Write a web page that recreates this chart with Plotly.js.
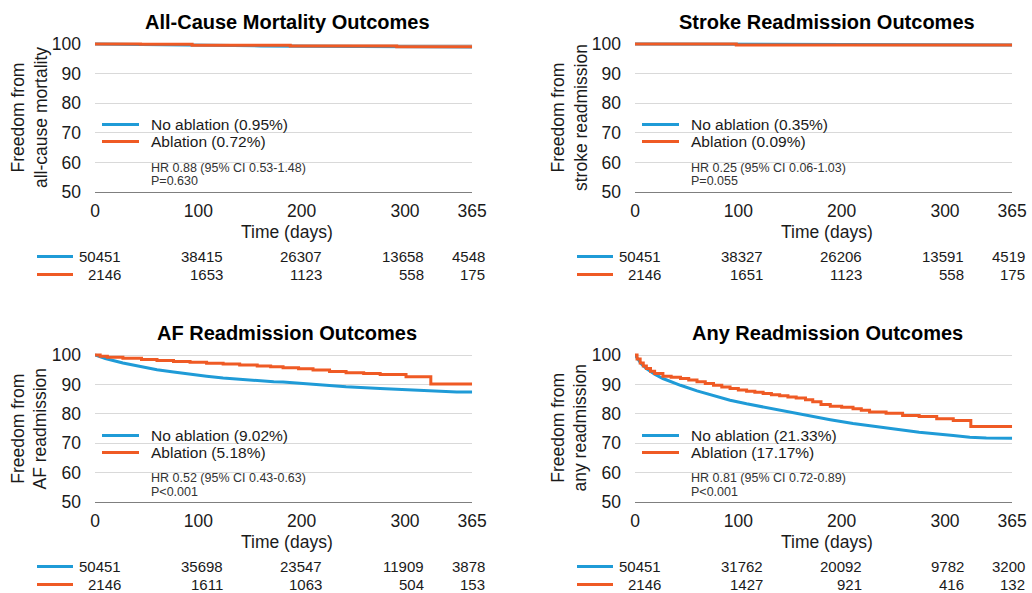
<!DOCTYPE html>
<html><head><meta charset="utf-8">
<script src="https://cdn.plot.ly/plotly-3.0.1.min.js"></script>
<style>html,body{margin:0;padding:0;background:#fff}#chart{width:1032px;height:593px}</style>
</head><body><div id="chart"></div>
<script>
// ---------------- data ----------------
const panelTitles = ["All-Cause Mortality Outcomes", "Stroke Readmission Outcomes", "AF Readmission Outcomes", "Any Readmission Outcomes"];
const yTitles = ["Freedom from<br>all-cause mortality", "Freedom from<br>stroke readmission", "Freedom from<br>AF readmission", "Freedom from<br>any readmission"];
const xTitle = "Time (days)";
const seriesNames = ["No ablation", "Ablation"];
const eventRates = [["0.95%", "0.72%"], ["0.35%", "0.09%"], ["9.02%", "5.18%"], ["21.33%", "17.17%"]];
const hrTexts = ["HR 0.88 (95% CI 0.53-1.48)", "HR 0.25 (95% CI 0.06-1.03)", "HR 0.52 (95% CI 0.43-0.63)", "HR 0.81 (95% CI 0.72-0.89)"];
const pTexts = ["P=0.630", "P=0.055", "P&lt;0.001", "P&lt;0.001"];
const xTicks = [0, 100, 200, 300, 365];
const yTicks = [50, 60, 70, 80, 90, 100];
const riskNoAblation = [[50451, 38415, 26307, 13658, 4548], [50451, 38327, 26206, 13591, 4519], [50451, 35698, 23547, 11909, 3878], [50451, 31762, 20092, 9782, 3200]];
const riskAblation = [[2146, 1653, 1123, 558, 175], [2146, 1651, 1123, 558, 175], [2146, 1611, 1063, 504, 153], [2146, 1427, 921, 416, 132]];

// All-cause mortality
const mortNoAblDays = [0, 30, 60, 80, 120, 160, 200, 250, 300, 340, 365];
const mortNoAblSurv = [100, 99.85, 99.7, 99.5, 99.45, 99.35, 99.25, 99.15, 99.05, 99.02, 99.0];
const mortAblDays = [0, 44, 94, 189, 292, 365];
const mortAblSurv = [100, 99.9, 99.55, 99.33, 99.1, 99.1];
// Stroke readmission
const strokeNoAblDays = [0, 60, 121, 200, 300, 365];
const strokeNoAblSurv = [100, 99.95, 99.7, 99.68, 99.65, 99.65];
const strokeAblDays = [0, 98, 365];
const strokeAblSurv = [100, 99.7, 99.7];
// AF readmission
const afNoAblDays = [0, 10, 27, 44, 60, 76, 92, 108, 124, 140, 157, 173, 182, 211, 243, 276, 308, 324, 350, 365];
const afNoAblSurv = [100, 98.8, 97.3, 96.0, 95.0, 94.2, 93.4, 92.8, 92.2, 91.7, 91.2, 90.9, 90.8, 90.0, 89.2, 88.6, 88.1, 87.7, 87.4, 87.4];
const afAblDays = [0, 5, 12, 27, 45, 60, 76, 92, 108, 124, 140, 157, 170, 182, 197, 211, 227, 243, 260, 276, 301, 325, 365];
const afAblSurv = [100, 99.6, 99.2, 98.9, 98.5, 98.1, 97.8, 97.5, 97.2, 96.9, 96.6, 96.25, 96.0, 95.7, 95.3, 94.9, 94.4, 94.0, 93.7, 93.4, 92.6, 90.1, 90.1];
// Any readmission
const anyNoAblDays = [0, 3, 6, 11, 19, 27, 35, 44, 60, 76, 92, 108, 124, 140, 156, 172, 189, 211, 243, 275, 308, 324, 340, 365];
const anyNoAblSurv = [100, 98.3, 97.0, 95.4, 93.5, 92.0, 90.8, 89.7, 87.8, 86.1, 84.6, 83.4, 82.3, 81.4, 80.3, 79.2, 78.0, 76.7, 75.1, 73.7, 72.6, 72.0, 71.8, 71.7];
const anyAblDays = [0, 2, 5, 8, 11, 15, 19, 27, 35, 44, 52, 60, 68, 76, 84, 92, 100, 108, 116, 124, 132, 140, 148, 156, 165, 172, 180, 189, 200, 211, 219, 227, 243, 259, 275, 292, 308, 325, 365];
const anyAblSurv = [100, 98.6, 97.3, 96.3, 95.4, 94.5, 93.7, 92.8, 92.4, 92.0, 91.5, 90.9, 90.3, 89.7, 89.1, 88.6, 88.1, 87.7, 87.3, 86.9, 86.5, 86.1, 85.7, 85.4, 84.8, 84.1, 83.2, 82.6, 82.2, 81.7, 81.2, 80.6, 80.2, 79.4, 79.1, 78.3, 77.7, 75.7, 75.7];

const curves = [
  [[mortNoAblDays, mortNoAblSurv], [mortAblDays, mortAblSurv]],
  [[strokeNoAblDays, strokeNoAblSurv], [strokeAblDays, strokeAblSurv]],
  [[afNoAblDays, afNoAblSurv], [afAblDays, afAblSurv]],
  [[anyNoAblDays, anyNoAblSurv], [anyAblDays, anyAblSurv]]
];

// ---------------- layout geometry ----------------
const W = 1032, H = 593;
const FONT = "Liberation Sans, Arial, Helvetica, sans-serif";
const COLORS = ["#1f9bd7", "#ef5a24"];
const TXT = "#1a1a1a";
const geo = [
  {x0: 95, y100: 44, y50: 192}, {x0: 635, y100: 44, y50: 192},
  {x0: 95, y100: 355, y50: 502}, {x0: 635, y100: 355, y50: 502}
];
const pxPerDay = 1.0333;
const fx = px => px / W;
const fy = py => 1 - py / H;

const traces = [];
const layout = {
  width: W, height: H, margin: {l: 0, r: 0, t: 0, b: 0},
  paper_bgcolor: "#fff", plot_bgcolor: "#fff", showlegend: false,
  font: {family: FONT, color: TXT},
  annotations: [], shapes: []
};

const riskOffsets = [28, 130, 229, 331, 392];

geo.forEach((g, i) => {
  const n = i === 0 ? "" : String(i + 1);
  const xa = "x" + n, ya = "y" + n;
  const x365 = g.x0 + 365 * pxPerDay;
  const pxPerUnit = (g.y50 - g.y100) / 50;
  const yTop = g.y100 - pxPerUnit * 1; // range up to 101
  layout["xaxis" + n] = {
    domain: [fx(g.x0), fx(x365)], range: [0, 365], anchor: ya,
    tickmode: "array", tickvals: xTicks, ticktext: xTicks.map(String),
    showgrid: false, zeroline: false, showline: true, linecolor: "#7f7f7f", linewidth: 1,
    ticks: "", ticklabelstandoff: 3, tickfont: {size: 17.5, family: FONT, color: TXT}, fixedrange: true
  };
  layout["yaxis" + n] = {
    domain: [fy(g.y50), fy(yTop)], range: [50, 101], anchor: xa,
    tickmode: "array", tickvals: yTicks, ticktext: yTicks.map(String),
    showgrid: true, gridcolor: "#d9d9d9", gridwidth: 1, zeroline: false, showline: false,
    ticks: "", ticklabelstandoff: 13, tickfont: {size: 17.5, family: FONT, color: TXT}, fixedrange: true
  };
  curves[i].forEach((c, s) => {
    traces.push({
      type: "scatter", mode: "lines", x: c[0], y: c[1], xaxis: xa, yaxis: ya,
      name: seriesNames[s], line: {color: COLORS[s], width: 3, shape: s === 0 ? "linear" : "hv"},
      hoverinfo: "skip"
    });
  });
  const A = layout.annotations, S = layout.shapes;
  // title
  A.push({xref: "paper", yref: "paper", x: fx(g.x0 + 192), y: fy(g.y100 - 22), xanchor: "center", yanchor: "middle",
    text: panelTitles[i], showarrow: false, font: {size: 20, weight: "bold", color: "#000", family: FONT}});
  // y title
  A.push({xref: "paper", yref: "paper", x: fx(g.x0 - 66), y: fy((g.y100 + g.y50) / 2), xanchor: "center", yanchor: "middle",
    text: yTitles[i], textangle: -90, showarrow: false, font: {size: 17.5, color: TXT, family: FONT}});
  // x title
  A.push({xref: "paper", yref: "paper", x: fx(g.x0 + 192), y: fy(g.y50 + 40), xanchor: "center", yanchor: "middle",
    text: xTitle, showarrow: false, font: {size: 17.5, color: TXT, family: FONT}});
  // legend
  [80.5, 97.5].forEach((dy, s) => {
    S.push({type: "line", xref: "paper", yref: "paper", x0: fx(g.x0 + 7), x1: fx(g.x0 + 44), y0: fy(g.y100 + dy), y1: fy(g.y100 + dy),
      line: {color: COLORS[s], width: 3}});
    A.push({xref: "paper", yref: "paper", x: fx(g.x0 + 54), y: fy(g.y100 + dy), xanchor: "left", yanchor: "middle",
      text: seriesNames[s] + " (" + eventRates[i][s] + ")", showarrow: false, font: {size: 15.5, color: TXT, family: FONT}});
  });
  A.push({xref: "paper", yref: "paper", x: fx(g.x0 + 54), y: fy(g.y100 + 123.5), xanchor: "left", yanchor: "middle",
    text: hrTexts[i], showarrow: false, font: {size: 12.5, color: "#333", family: FONT}});
  A.push({xref: "paper", yref: "paper", x: fx(g.x0 + 54), y: fy(g.y100 + 137), xanchor: "left", yanchor: "middle",
    text: pTexts[i], showarrow: false, font: {size: 12.5, color: "#333", family: FONT}});
  // number at risk
  [[riskNoAblation[i], 64.5], [riskAblation[i], 82.5]].forEach((row, s) => {
    const yy = g.y50 + row[1];
    S.push({type: "line", xref: "paper", yref: "paper", x0: fx(g.x0 - 58), x1: fx(g.x0 - 22), y0: fy(yy), y1: fy(yy),
      line: {color: COLORS[s], width: 3}});
    row[0].forEach((v, k) => {
      A.push({xref: "paper", yref: "paper", x: fx(g.x0 + riskOffsets[k]), y: fy(yy), xanchor: "right", yanchor: "middle",
        text: String(v), showarrow: false, font: {size: 15, color: TXT, family: FONT}});
    });
  });
});

Plotly.newPlot("chart", traces, layout, {staticPlot: true, displayModeBar: false});
</script></body></html>
